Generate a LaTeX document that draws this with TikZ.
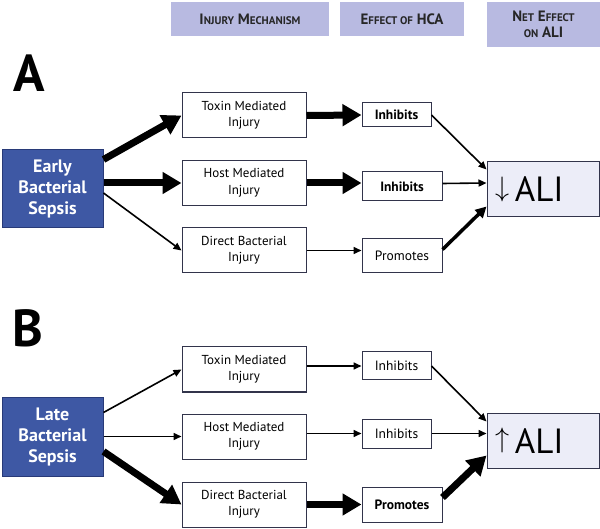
\documentclass[tikz,border=0pt]{standalone}
\usepackage{fontspec}
\usepackage{graphicx}
\setmainfont{PT Sans}
\usetikzlibrary{arrows.meta,calc}

\definecolor{headfill}{RGB}{184,186,225}
\definecolor{sepsfill}{RGB}{62,88,164}
\definecolor{sepsline}{RGB}{40,58,120}
\definecolor{alifill}{RGB}{236,237,248}
\definecolor{boxline}{RGB}{50,52,75}

\tikzset{
  header/.style={fill=headfill, text=black!85, font=\fontsize{15}{16}\selectfont\bfseries, align=center, inner sep=0pt},
  sepsis/.style={fill=sepsfill, draw=sepsline, line width=1pt, text=white, font=\fontsize{18}{21}\selectfont\bfseries, align=center, minimum width=101pt, minimum height=78pt, inner sep=0pt},
  mech/.style={fill=white, draw=boxline, line width=1pt, font=\fontsize{13}{16.5}\selectfont, align=center, minimum width=124pt, minimum height=45pt, inner sep=0pt},
  hca/.style={fill=white, draw=boxline, line width=1pt, font=\fontsize{13.5}{15}\selectfont, minimum width=80pt, inner sep=0pt},
  net/.style={fill=alifill, draw=boxline, line width=1pt, font=\fontsize{35}{36}\selectfont, text width=96pt, align=left, minimum height=55pt, inner xsep=8pt, inner ysep=0pt},
  panel/.style={font=\fontsize{52}{52}\selectfont\bfseries, inner sep=0pt},
  thinarr/.style={line width=1.6pt, -{Triangle[length=8pt,width=7pt]}},
  midarr/.style={line width=3.5pt, -{Triangle[length=11pt,width=11pt]}},
  fatarr/.style={line width=7pt, -{Triangle[length=19pt,width=21pt]}},
}
\newcommand{\fsc}[1]{{\fontsize{11}{12}\selectfont #1}}
\newcommand{\tallarrow}[1]{\raisebox{\depth}{\resizebox*{!}{25pt}{$#1$}}}

\begin{document}
\begin{tikzpicture}[x=1pt,y=-1pt]
	  \useasboundingbox (0,0) rectangle (600,529);

	  % column headers
	  \node [header, minimum width=158pt, minimum height=34pt] (hmech) at (250,19) {I\fsc{NJURY} M\fsc{ECHANISM}};
	  \node [header, minimum width=124pt, minimum height=34pt] (hhca) at (402,19) {E\fsc{FFECT OF} HCA};
	  \node [header, minimum width=113pt, minimum height=45pt] (hnet) at (543.5,24.5) {N\fsc{ET} E\fsc{FFECT}\\ \fsc{ON} ALI};

	  % panel A
	  \node [panel] (labA) at (29,73.5) {A};
	  \node [sepsis] (sepA) at (52.5,189) {Early\\Bacterial\\Sepsis};
	  \node [mech] (toxA) at (244,115.5) {Toxin Mediated\\Injury};
	  \node [mech] (hostA) at (244,183) {Host Mediated\\Injury};
	  \node [mech] (dirA) at (244,250.5) {Direct Bacterial\\Injury};
	  \node [hca, minimum width=69pt, minimum height=24pt] (inhA1) at (396.5,115) {\bfseries Inhibits};
	  \node [hca, minimum height=29pt] (inhA2) at (402,186.5) {\bfseries Inhibits};
	  \node [hca, minimum height=34pt] (proA) at (402,256) {Promotes};
	  \node [net] (aliA) at (543,189.5) {\tallarrow{\downarrow}\,ALI};

	  \draw [fatarr] ($(sepA.north east)+(0,10)$) -- (toxA.west);
	  \draw [fatarr] (sepA.east |- hostA.west) -- (hostA.west);
	  \draw [thinarr] ($(sepA.east)+(0,4)$) -- (dirA.west);
	  \draw [fatarr] (toxA.east) -- (inhA1.west);
	  \draw [fatarr] (hostA.east) -- (hostA.east -| inhA2.west);
	  \draw [thinarr] (dirA.east) -- (dirA.east -| proA.west);
	  \draw [thinarr] (inhA1.east) -- ($(aliA.north west)+(0,8)$);
	  \draw [thinarr] ($(inhA2.east)+(0,-3)$) -- ($(aliA.west)+(0,-6.5)$);
	  \draw [midarr] ($(proA.north east)+(0,11)$) -- ($(aliA.south west)+(0,-11)$);

	  % panel B
	  \node [panel] (labB) at (28,328) {B};
	  \node [sepsis, minimum height=79pt] (sepB) at (52.5,436.5) {Late\\Bacterial\\Sepsis};
	  \node [mech] (toxB) at (244,369.5) {Toxin Mediated\\Injury};
	  \node [mech] (hostB) at (244,436.5) {Host Mediated\\Injury};
	  \node [mech] (dirB) at (244,504.5) {Direct Bacterial\\Injury};
	  \node [hca, minimum width=69pt, minimum height=28pt] (inhB1) at (396.5,366) {Inhibits};
	  \node [hca, minimum width=69pt, minimum height=29pt] (inhB2) at (396.5,433.5) {Inhibits};
	  \node [hca, minimum height=35pt] (proB) at (402,504.5) {\bfseries Promotes};
	  \node [net] (aliB) at (543,440.5) {\tallarrow{\uparrow}\,ALI};

	  \draw [thinarr] ($(sepB.north east)+(0,16)$) -- (toxB.west);
	  \draw [thinarr] (sepB.east) -- (hostB.west);
	  \draw [fatarr] ($(sepB.east)+(0,15)$) -- (dirB.west);
	  \draw [thinarr] (toxB.east |- inhB1.west) -- (inhB1.west);
	  \draw [thinarr] (hostB.east |- inhB2.west) -- (inhB2.west);
	  \draw [fatarr] (dirB.east) -- (proB.west);
	  \draw [thinarr] (inhB1.east) -- ($(aliB.north west)+(0,9)$);
	  \draw [thinarr] (inhB2.east) -- (inhB2.east -| aliB.west);
	  \draw [fatarr] ($(proB.north east)+(0,11)$) -- ($(aliB.south west)+(0,-13)$);
	\end{tikzpicture}
\end{document}
